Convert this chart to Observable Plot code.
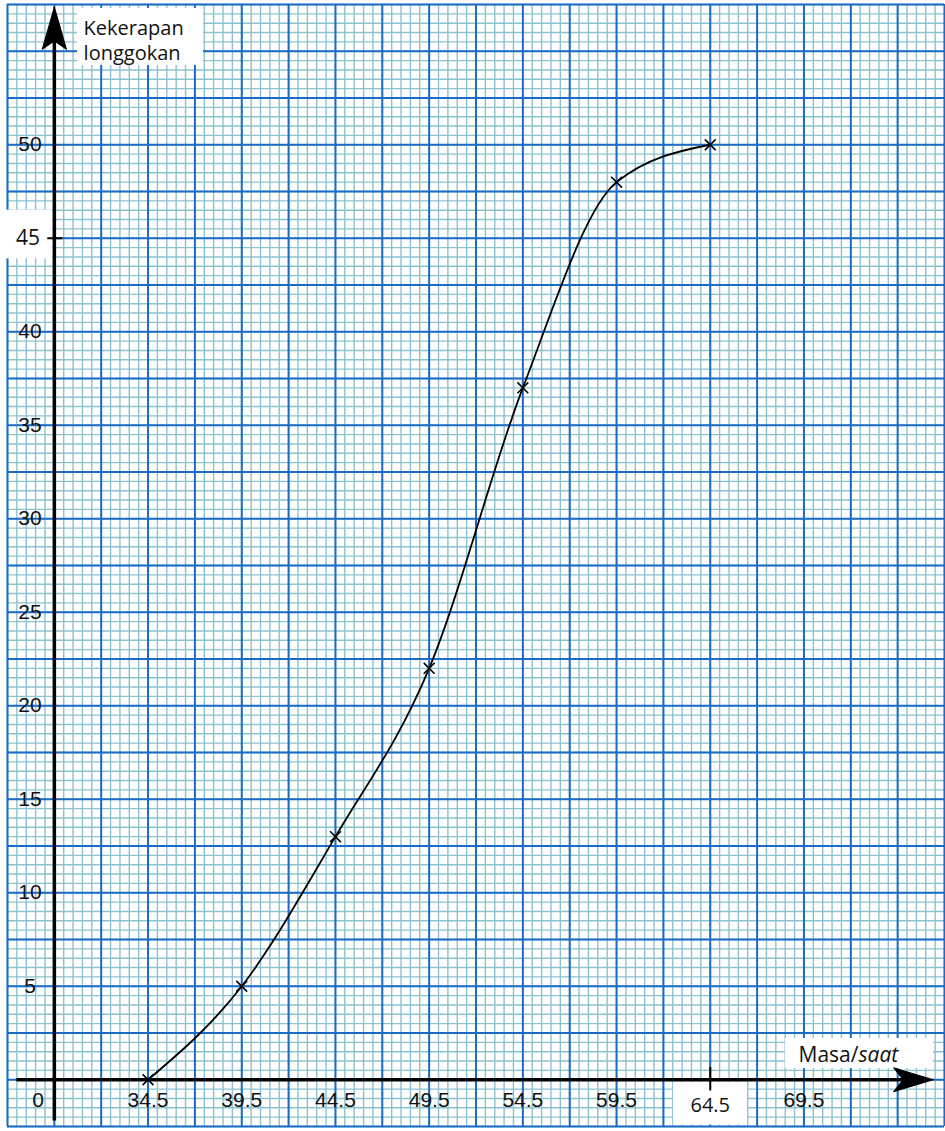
<!DOCTYPE html>
<html><head><meta charset="utf-8">
<script src="https://cdn.jsdelivr.net/npm/d3@7"></script>
<script src="https://cdn.jsdelivr.net/npm/@observablehq/plot@0.6"></script>
<style>body{margin:0;background:#fff}svg{display:block}</style>
</head><body><div id="chart"></div>
<script>
// Data: cumulative frequency (Kekerapan longgokan) vs upper boundary (Masa/saat)
const masa = [34.5, 39.5, 44.5, 49.5, 54.5, 59.5, 64.5];
const kekerapan = [0, 5, 13, 22, 37, 48, 50];

// Tick labels
const xTickValues = [34.5, 39.5, 44.5, 49.5, 54.5, 59.5, 69.5];
const xTickLabels = ["34.5", "39.5", "44.5", "49.5", "54.5", "59.5", "69.5"];
const xBoxedValue = [64.5];
const xBoxedLabel = ["64.5"];
const yTickValues = [5, 10, 15, 20, 25, 30, 35, 40, 50];
const yTickLabels = ["5", "10", "15", "20", "25", "30", "35", "40", "50"];
const yBoxedValue = [45];
const yBoxedLabel = ["45"];
const originLabel = ["0"];
const yTitle = "Kekerapan\nlonggokan";
const xTitleMain = "Masa/";
const xTitleItalic = "saat";

// Graph-paper extent (data units)
const xDomain = [27, 77];
const yDomain = [-2.5, 57.5];
const minorX = d3.range(27, 77.001, 0.5);
const minorY = d3.range(-2.5, 57.501, 0.5);
const majorX = d3.range(27, 77.001, 2.5);
const majorY = d3.range(-2.5, 57.501, 2.5);

// Label background boxes (data units)
const boxes = [
  {x1: 26.6, x2: 29.4, y1: 43.9, y2: 46.5},
  {x1: 30.74, x2: 37.46, y1: 54.24, y2: 57.29},
  {x1: 68.52, x2: 76.41, y1: 0.6, y2: 2.21},
  {x1: 62.54, x2: 66.49, y1: -2.42, y2: -0.15}
];

// Axis arrowheads (data units)
const yArrow = [{x: 29.5, y: 57.36}, {x: 30.15, y: 55.1}, {x: 29.5, y: 55.55}, {x: 28.85, y: 55.1}, {x: 29.5, y: 57.36}];
const xArrow = [{x: 76.4, y: 0}, {x: 74.28, y: 0.64}, {x: 74.78, y: 0}, {x: 74.28, y: -0.64}, {x: 76.4, y: 0}];

const points = masa.map((x, i) => ({x, y: kekerapan[i]}));

const arial = "Liberation Sans, Arial, sans-serif";
const calibri = "Open Sans, Lato, sans-serif";

const chart = Plot.plot({
  width: 945,
  height: 1131,
  marginLeft: 7,
  marginRight: 1,
  marginTop: 4,
  marginBottom: 5,
  x: {domain: xDomain, axis: null},
  y: {domain: yDomain, axis: null},
  style: {background: "white", overflow: "visible"},
  marks: [
    Plot.ruleX(minorX, {stroke: "#8cc2cf", strokeWidth: 1.4}),
    Plot.ruleY(minorY, {stroke: "#8cc2cf", strokeWidth: 1.4}),
    Plot.ruleX(majorX, {stroke: "#1b6cc6", strokeWidth: 2}),
    Plot.ruleY(majorY, {stroke: "#1b6cc6", strokeWidth: 2}),
    Plot.rect(boxes, {x1: "x1", x2: "x2", y1: "y1", y2: "y2", fill: "white"}),
    // axes
    Plot.ruleY([0], {x1: 27.5, x2: 75, stroke: "black", strokeWidth: 3.5}),
    Plot.ruleX([29.5], {y1: -2.2, y2: 56, stroke: "black", strokeWidth: 3.5}),
    Plot.line(yArrow, {x: "x", y: "y", fill: "black", stroke: "black", strokeWidth: 1}),
    Plot.line(xArrow, {x: "x", y: "y", fill: "black", stroke: "black", strokeWidth: 1}),
    // tick marks
    Plot.ruleY(yBoxedValue, {x1: 29.15, x2: 29.95, stroke: "black", strokeWidth: 2}),
    Plot.ruleX(xBoxedValue, {y1: -0.6, y2: 0.65, stroke: "black", strokeWidth: 2}),
    // curve
    Plot.line(points, {x: "x", y: "y", curve: "monotone-x", stroke: "black", strokeWidth: 1.8}),
    Plot.dot(points, {x: "x", y: "y", symbol: "times", r: 5, stroke: "black", strokeWidth: 1.6}),
    // tick labels
    Plot.text(xTickValues, {x: d => d, y: -1.1, text: (d, i) => xTickLabels[i], fontFamily: arial, fontSize: 21, fill: "#111"}),
    Plot.text(xBoxedValue, {x: d => d, y: -1.38, text: (d, i) => xBoxedLabel[i], fontFamily: calibri, fontSize: 20, fill: "#111"}),
    Plot.text(yTickValues, {x: 28.2, y: d => d, text: (d, i) => yTickLabels[i], fontFamily: arial, fontSize: 21, fill: "#111"}),
    Plot.text(yBoxedValue, {x: 28.1, y: d => d, text: (d, i) => yBoxedLabel[i], fontFamily: calibri, fontSize: 21, fill: "#111"}),
    Plot.text(originLabel, {x: 28.63, y: -1.1, text: d => d, fontFamily: arial, fontSize: 21, fill: "#111"}),
    // titles
    Plot.text([yTitle], {x: 31.06, y: 56.8, text: d => d, textAnchor: "start", lineAnchor: "top", lineHeight: 1.25, fontFamily: calibri, fontSize: 20, fill: "#111"}),
    Plot.text([xTitleMain], {x: 72.41, y: 1.3, text: d => d, textAnchor: "end", fontFamily: calibri, fontSize: 21, fill: "#111"}),
    Plot.text([xTitleItalic], {x: 72.41, y: 1.3, text: d => d, textAnchor: "start", fontStyle: "italic", fontFamily: calibri, fontSize: 21, fill: "#111"})
  ]
});
document.getElementById("chart").append(chart);
</script>
</body></html>
